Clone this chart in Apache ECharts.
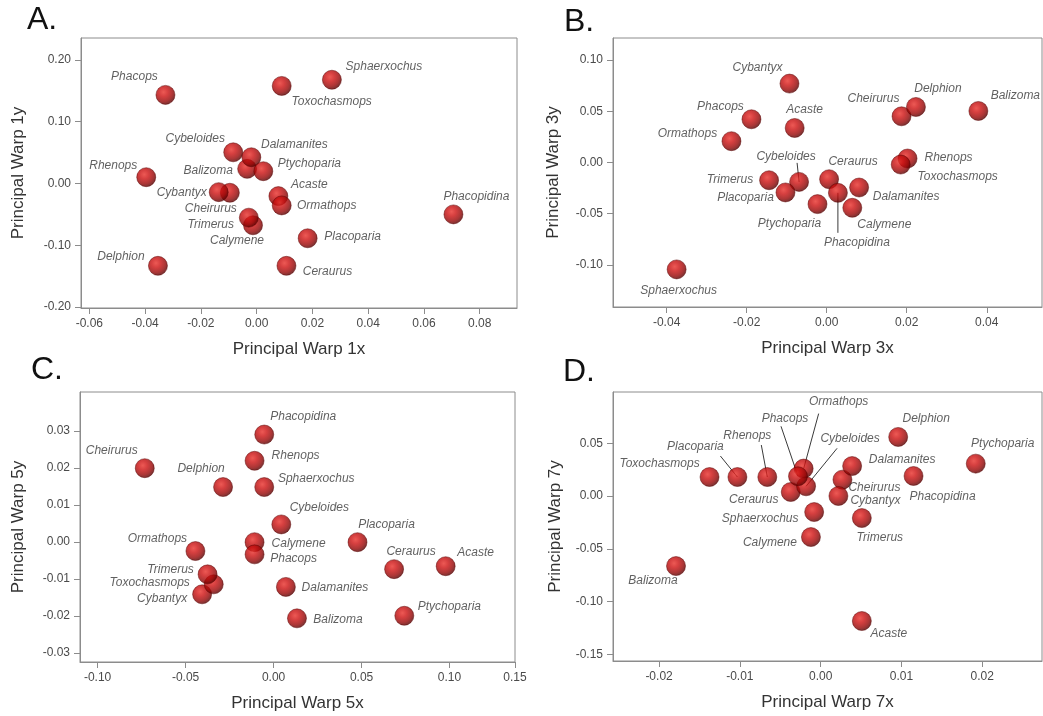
<!DOCTYPE html>
<html><head><meta charset="utf-8">
<script src="https://cdn.jsdelivr.net/npm/echarts@6/dist/echarts.min.js"></script>
<style>html,body{margin:0;padding:0;background:#fff}#c{width:1043px;height:716px}</style>
</head><body><div id="c"></div>
<script>
// ---------- DATA ----------
const taxa = ['Acaste','Balizoma','Calymene','Ceraurus','Cheirurus','Cybantyx','Cybeloides','Dalamanites','Delphion','Ormathops','Phacopidina','Phacops','Placoparia','Ptychoparia','Rhenops','Sphaerxochus','Toxochasmops','Trimerus'];

const warp1x = [0.0078,-0.0034,-0.0013,0.0107,-0.0096,-0.0136,-0.0084,-0.0019,-0.0354,0.0090,0.0706,-0.0327,0.0183,0.0024,-0.0396,0.0270,0.0090,-0.0028];
const warp1y = [-0.0204,0.0237,-0.0677,-0.1333,-0.0150,-0.0140,0.0505,0.0425,-0.1333,-0.0355,-0.0500,0.1435,-0.0887,0.0199,0.0102,0.1680,0.1580,-0.0553];

const warp3x = [-0.0080,0.0379,0.0064,0.0006,0.0187,-0.0093,-0.0069,0.0081,0.0223,-0.0238,0.0028,-0.0188,-0.0103,-0.0023,0.0202,-0.0375,0.0185,-0.0144];
const warp3y = [0.0337,0.0503,-0.0442,-0.0163,0.0451,0.0770,-0.0189,-0.0244,0.0542,0.0208,-0.0296,0.0422,-0.0292,-0.0406,0.0039,-0.1043,-0.0020,-0.0173];

const warp5x = [0.0978,0.0133,-0.0108,0.0685,-0.0732,-0.0406,0.0044,0.0070,-0.0287,-0.0444,-0.0053,-0.0108,0.0477,0.0743,-0.0108,-0.0053,-0.0340,-0.0375];
const warp5y = [-0.0066,-0.0207,-0.0001,-0.0074,0.0199,-0.0142,0.0047,-0.0122,0.0148,-0.0025,0.0290,-0.0034,-0.0001,-0.0200,0.0219,0.0148,-0.0115,-0.0088];

const warp7x = [0.0051,-0.0179,-0.0012,-0.0037,0.0027,0.0022,-0.0018,0.0039,0.0096,-0.0021,0.0115,-0.0028,-0.0103,0.0192,-0.0066,-0.0008,-0.01375,0.0051];
const warp7y = [-0.1185,-0.0664,-0.0389,0.0038,0.0155,0.0000,0.0092,0.0284,0.0560,0.0260,0.0190,0.0187,0.0180,0.0307,0.0180,-0.0152,0.0180,-0.0209];

const ticksX1 = [-0.06,-0.04,-0.02,0,0.02,0.04,0.06,0.08];
const ticksY1 = [-0.2,-0.1,0,0.1,0.2];
const ticksX3 = [-0.04,-0.02,0,0.02,0.04];
const ticksY3 = [-0.1,-0.05,0,0.05,0.1];
const ticksX5 = [-0.1,-0.05,0,0.05,0.1];
const ticksX5EdgeLabel = '0.15';
const ticksY5 = [-0.03,-0.02,-0.01,0,0.01,0.02,0.03];
const ticksX7 = [-0.02,-0.01,0,0.01,0.02];
const ticksY7 = [-0.15,-0.1,-0.05,0,0.05];

const panelLetters = ['A.','B.','C.','D.'];
const xNames = ['Principal Warp 1x','Principal Warp 3x','Principal Warp 5x','Principal Warp 7x'];
const yNames = ['Principal Warp 1y','Principal Warp 3y','Principal Warp 5y','Principal Warp 7y'];

// ---------- LAYOUT (label offsets in px, leader anchors) ----------
const offA = {Phacops:[-31,-18],Sphaerxochus:[52,-13],Toxochasmops:[50,16],Cybeloides:[-38,-14],Dalamanites:[43,-13],Balizoma:[-39,2],Ptychoparia:[46,-8],Rhenops:[-33,-12],Cybantyx:[-37,1],Acaste:[31,-11],Cheirurus:[-19,16],Ormathops:[45,0],Trimerus:[-38,7],Calymene:[-16,15],Placoparia:[45,-2],Phacopidina:[23,-18],Delphion:[-37,-9],Ceraurus:[41,6]};
const offB = {Cybantyx:[-32,-16],Phacops:[-31,-13],Acaste:[10,-18],Ormathops:[-44,-8],Cheirurus:[-28,-18],Delphion:[22,-18],Balizoma:[37,-15],Rhenops:[41,-1],Toxochasmops:[57,12],Cybeloides:[-13,-25],Ceraurus:[24,-18],Trimerus:[-39,-1],Placoparia:[-40,5],Dalamanites:[47,9],Ptychoparia:[-28,20],Calymene:[32,17],Phacopidina:[19,50],Sphaerxochus:[2,21]};
const offC = {Phacopidina:[39,-18],Cheirurus:[-33,-18],Rhenops:[41,-5],Delphion:[-22,-18],Sphaerxochus:[52,-8],Cybeloides:[38,-17],Placoparia:[29,-18],Calymene:[44,1],Phacops:[39,4],Ormathops:[-38,-12],Ceraurus:[17,-18],Acaste:[30,-14],Trimerus:[-37,-5],Toxochasmops:[-64,-2],Cybantyx:[-40,4],Dalamanites:[49,1],Balizoma:[41,1],Ptychoparia:[45,-9]};
const offD = {Ormathops:[35,-67],Phacops:[-13,-58],Delphion:[28,-18],Rhenops:[-20,-41],Placoparia:[-42,-30],Cybeloides:[44,-48],Ptychoparia:[27,-20],Toxochasmops:[-50,-13],Dalamanites:[50,-6],Cheirurus:[32,8],Cybantyx:[37,5],Phacopidina:[29,21],Ceraurus:[-37,8],Sphaerxochus:[-54,7],Trimerus:[18,20],Calymene:[-41,6],Balizoma:[-23,15],Acaste:[27,13]};
const leadB = {Cybeloides:[-2,-19],Phacopidina:[0,40]};
const leadD = {Ormathops:[15,-55],Phacops:[-17,-50],Rhenops:[-6,-32],Placoparia:[-17,-21],Cybeloides:[31,-38]};

const C_X_MIN = -0.110, C_X_MAX = 0.1372;
const panels = [
  {xs:warp1x, ys:warp1y, tx:ticksX1, ty:ticksY1, off:offA, lead:{}, grid:{left:81,top:38,width:436,height:270}, xr:[-0.063,0.0934], yr:[-0.2016,0.2356], xGap:33, yGap:54},
  {xs:warp3x, ys:warp3y, tx:ticksX3, ty:ticksY3, off:offB, lead:leadB, grid:{left:613,top:38,width:429,height:269}, xr:[-0.0534,0.0538], yr:[-0.141,0.1215], xGap:33, yGap:51},
  {xs:warp5x, ys:warp5y, tx:ticksX5.concat([C_X_MAX]), ty:ticksY5, off:offC, lead:{}, grid:{left:80,top:392,width:435,height:270}, xr:[C_X_MIN,C_X_MAX], yr:[-0.0325,0.0405], xGap:33, yGap:53},
  {xs:warp7x, ys:warp7y, tx:ticksX7, ty:ticksY7, off:offD, lead:leadD, grid:{left:613,top:392,width:429,height:269}, xr:[-0.0257,0.0274], yr:[-0.1564,0.0986], xGap:33, yGap:49}
];

const gray = '#8c8c8c';
const font = '"Liberation Sans", Arial, sans-serif';
const sphere = {type:'radial', x:0.4, y:0.36, r:0.64, colorStops:[
  {offset:0, color:'#e8302a'}, {offset:0.35, color:'#cc1010'}, {offset:0.75, color:'#960404'}, {offset:1, color:'#560000'}]};

const grids = [], xAxes = [], yAxes = [], series = [], graphics = [];
panels.forEach((p, i) => {
  grids.push(Object.assign({show:true, borderColor:gray, borderWidth:1, backgroundColor:'transparent'}, p.grid));
  xAxes.push({
    type:'value', gridIndex:i, min:p.xr[0], max:p.xr[1],
    name:xNames[i], nameLocation:'middle', nameGap:p.xGap,
    nameTextStyle:{fontSize:17, color:'#333', fontFamily:font},
    splitLine:{show:false}, axisLine:{show:true, onZero:false, lineStyle:{color:gray}},
    axisTick:{show:true, length:6, inside:false, lineStyle:{color:gray}, customValues:p.tx},
    axisLabel:{show:true, margin:10, fontSize:12, color:'#4a4a4a', fontFamily:font, customValues:p.tx,
      formatter:(v)=> (i===2 && Math.abs(v-C_X_MAX)<1e-9) ? ticksX5EdgeLabel : Number(v).toFixed(2)}
  });
  yAxes.push({
    type:'value', gridIndex:i, min:p.yr[0], max:p.yr[1],
    name:yNames[i], nameLocation:'middle', nameGap:p.yGap, nameRotate:90,
    nameTextStyle:{fontSize:17, color:'#333', fontFamily:font},
    splitLine:{show:false}, axisLine:{show:true, onZero:false, lineStyle:{color:gray}},
    axisTick:{show:true, length:6, inside:false, lineStyle:{color:gray}, customValues:p.ty},
    axisLabel:{show:true, margin:10, fontSize:12, color:'#4a4a4a', fontFamily:font, customValues:p.ty,
      formatter:(v)=> Number(v).toFixed(2)}
  });
  const leadNames = Object.keys(p.lead);
  series.push({
    type:'custom', xAxisIndex:i, yAxisIndex:i, z:1, silent:true,
    data: leadNames.map(n => { const k = taxa.indexOf(n); return {name:n, value:[p.xs[k], p.ys[k]]}; }),
    renderItem:(params, api) => {
      const c = api.coord([api.value(0), api.value(1)]);
      const a = p.lead[leadNames[params.dataIndex]];
      return {type:'line', shape:{x1:c[0]+a[0], y1:c[1]+a[1], x2:c[0], y2:c[1]}, style:{stroke:'#3a3a3a', lineWidth:1}};
    }
  });
  series.push({
    type:'scatter', xAxisIndex:i, yAxisIndex:i, z:3, symbol:'circle', symbolSize:19,
    itemStyle:{color:sphere, borderColor:'#5a0000', borderWidth:0.6},
    label:{show:true, position:'inside', formatter:'{b}', fontStyle:'italic', fontSize:12, color:'#383838', fontFamily:font},
    emphasis:{disabled:true},
    data: taxa.map((n,k) => ({name:n, value:[p.xs[k], p.ys[k]], label:{offset:p.off[n]}}))
  });
});

const letterPos = [[27,4],[564,6],[31,354],[563,356]];
panelLetters.forEach((t,i)=>{
  graphics.push({type:'text', left:letterPos[i][0], top:letterPos[i][1], style:{text:t, font:'32px '+font, fill:'#111'}});
});

const chart = echarts.init(document.getElementById('c'), null, {renderer:'canvas'});
chart.setOption({animation:false, backgroundColor:'#fff', grid:grids, xAxis:xAxes, yAxis:yAxes, series:series, graphic:graphics});
</script></body></html>
